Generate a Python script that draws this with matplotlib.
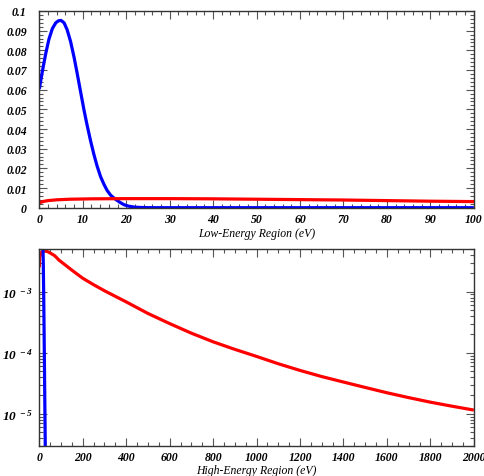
import matplotlib
matplotlib.use("Agg")
import matplotlib.pyplot as plt
from matplotlib.ticker import MultipleLocator, FuncFormatter, LogLocator, NullFormatter

# blue spectrum (eV, value)
blue_e = [0, 0.7, 1.5, 2.2, 3.0, 3.8, 4.4, 5.0, 5.7, 6.4, 7.2, 8.0, 8.7, 9.5,
          10.3, 11.0, 11.8, 12.6, 13.3, 14.1, 14.9, 15.6, 16.4, 17.4, 18.5,
          19.5, 20.5, 22.0, 24.0, 26.0, 28.0, 30.0, 40.0, 100.0]
blue_v = [0.0603, 0.0692, 0.0785, 0.0855, 0.0910, 0.0940, 0.0950, 0.0952, 0.0940,
          0.0905, 0.0845, 0.0765, 0.0685, 0.0590, 0.0495, 0.0420, 0.0340, 0.0268,
          0.0212, 0.0158, 0.0118, 0.0088, 0.0064, 0.0045, 0.0028, 0.0015,
          8e-4, 2.5e-4, 5e-5, 1e-5, 2e-6, 3e-7, 1e-10, 1e-20]

# red spectrum (eV, value)
red_e = [0, 1, 2, 4, 7, 12, 20, 30, 40, 50, 60, 70, 80, 90, 100, 150, 200, 250,
         300, 400, 500, 600, 700, 800, 900, 1000, 1100, 1200, 1300, 1400, 1500,
         1600, 1700, 1800, 1900, 2000]
red_v = [0.0025, 0.0032, 0.0036, 0.0040, 0.0043, 0.0045, 0.0046, 0.0046, 0.0045,
         0.0043, 0.0041, 0.0039, 0.0036, 0.0033, 0.0031, 0.00225, 0.00166, 0.0013,
         1.035e-3, 6.8e-4, 4.4e-4, 3.0e-4, 2.09e-4, 1.51e-4, 1.135e-4, 8.7e-5,
         6.6e-5, 5.13e-5, 4.07e-5, 3.31e-5, 2.7e-5, 2.21e-5, 1.84e-5, 1.55e-5,
         1.33e-5, 1.15e-5]

log_ticks = [1e-5, 1e-4, 1e-3]
log_labels = [r'$10^{\ -5}$', r'$10^{\ -4}$', r'$10^{\ -3}$']

plt.rcParams['font.family'] = 'Liberation Serif'
plt.rcParams['font.weight'] = 'bold'
plt.rcParams['font.style'] = 'italic'
plt.rcParams['mathtext.fontset'] = 'custom'
plt.rcParams['mathtext.rm'] = 'Liberation Serif:bold:italic'
plt.rcParams['mathtext.it'] = 'Liberation Serif:bold:italic'
plt.rcParams['mathtext.bf'] = 'Liberation Serif:bold:italic'

fig = plt.figure(figsize=(4.85, 4.77), dpi=100)
ax1 = fig.add_axes([0.081, 0.5625, 0.896, 0.4124])
ax2 = fig.add_axes([0.081, 0.0635, 0.896, 0.4124])

lw = 2.3
style = dict(lw=lw, solid_joinstyle='round', solid_capstyle='butt')
ax1.plot(blue_e, blue_v, color='#0000ff', **style)
ax1.plot(red_e, red_v, color='#ff0000', **style)
ax1.set_xlim(0, 100)
ax1.set_ylim(0, 0.1)
ax1.xaxis.set_major_locator(MultipleLocator(10))
ax1.xaxis.set_minor_locator(MultipleLocator(2))
ax1.yaxis.set_major_locator(MultipleLocator(0.01))
ax1.yaxis.set_minor_locator(MultipleLocator(0.002))
ax1.xaxis.set_major_formatter(FuncFormatter(lambda v, p: '%g' % round(v, 4)))
ax1.yaxis.set_major_formatter(FuncFormatter(lambda v, p: '%g' % round(v, 4)))
ax1.set_xlabel('Low-Energy Region (eV)', fontsize=8.5, labelpad=1)

ax2.plot(red_e, red_v, color='#ff0000', **style)
ax2.plot(blue_e, blue_v, color='#0000ff', **style)
ax2.set_yscale('log')
ax2.set_xlim(0, 2000)
ax2.set_ylim(3e-6, 5e-3)
ax2.xaxis.set_major_locator(MultipleLocator(200))
ax2.xaxis.set_minor_locator(MultipleLocator(50))
ax2.set_yticks(log_ticks)
ax2.set_yticklabels(log_labels, fontsize=9.5)
ax2.yaxis.set_minor_locator(LogLocator(base=10, subs=range(2, 10)))
ax2.yaxis.set_minor_formatter(NullFormatter())
ax2.xaxis.set_major_formatter(FuncFormatter(lambda v, p: '%d' % v))
ax2.set_xlabel('High-Energy Region (eV)', fontsize=8.5, labelpad=0.5)

for ax in (ax1, ax2):
    ax.tick_params(which='both', direction='in', top=True, right=True,
                   color='#555555', width=0.8)
    ax.tick_params(axis='x', labelsize=8.5)
    ax.tick_params(which='major', length=6, pad=4)
    ax.tick_params(which='minor', length=3)
    for s in ax.spines.values():
        s.set_linewidth(1.0)
        s.set_color('#333333')
ax1.tick_params(axis='y', labelsize=8.5, pad=9)
ax2.tick_params(axis='y', pad=5)

fig.savefig('out.png', dpi=100)
